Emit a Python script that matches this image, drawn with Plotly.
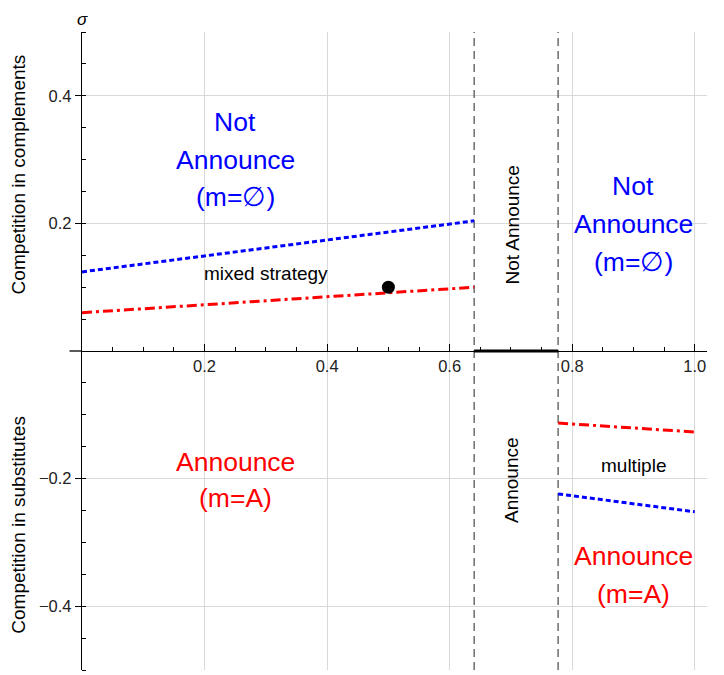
import plotly.graph_objects as go

# ---- data ----
x_top = [0.0, 0.64]
blue_top = [0.124, 0.204]
red_top = [0.060, 0.100]
x_bot = [0.777, 1.0]
red_bot = [-0.113, -0.127]
blue_bot = [-0.224, -0.252]
boundaries = [0.64, 0.777]
mixed_x = [0.5]
mixed_y = [0.1]
x_ticks = [0.2, 0.4, 0.6, 0.8, 1.0]
y_ticks = [-0.4, -0.2, 0.2, 0.4]
x_range = [0, 1.02]
y_range = [-0.5, 0.5]

BLUE = "#0000FF"
RED = "#FF0000"
FONT = "Liberation Sans, Arial, sans-serif"

fig = go.Figure()

# vertical dashed boundaries
for b in boundaries:
    fig.add_trace(go.Scatter(x=[b, b], y=y_range, mode="lines",
                             line=dict(color="#555555", width=1.3, dash="8px,5px"),
                             hoverinfo="skip"))

# thick segment on the axis between boundaries
fig.add_trace(go.Scatter(x=boundaries, y=[0, 0], mode="lines",
                         line=dict(color="black", width=3), hoverinfo="skip"))

fig.add_trace(go.Scatter(x=x_top, y=blue_top, mode="lines",
                         line=dict(color=BLUE, width=3, dash="5px,3px")))
fig.add_trace(go.Scatter(x=x_top, y=red_top, mode="lines",
                         line=dict(color=RED, width=3, dash="10px,4px,3px,4px")))
fig.add_trace(go.Scatter(x=x_bot, y=red_bot, mode="lines",
                         line=dict(color=RED, width=3, dash="10px,4px,3px,4px")))
fig.add_trace(go.Scatter(x=x_bot, y=blue_bot, mode="lines",
                         line=dict(color=BLUE, width=3, dash="5px,3px")))
fig.add_trace(go.Scatter(x=mixed_x, y=mixed_y, mode="markers",
                         marker=dict(color="black", size=13)))

ann = []

def big(text, x, y, color):
    ann.append(dict(x=x, y=y, xref="x", yref="y", text=text, showarrow=False,
                    font=dict(family=FONT, size=26.5, color=color)))

for t, y in zip(["Not", "Announce", "(m=∅)"], [0.359, 0.299, 0.241]):
    big(t, 0.25, y, BLUE)
for t, y in zip(["Not", "Announce", "(m=∅)"], [0.259, 0.199, 0.139]):
    big(t, 0.90, y, BLUE)
for t, y in zip(["Announce", "(m=A)"], [-0.174, -0.230]):
    big(t, 0.25, y, RED)
for t, y in zip(["Announce", "(m=A)"], [-0.321, -0.381]):
    big(t, 0.90, y, RED)

small = dict(family=FONT, size=19, color="black")
ann.append(dict(x=0.30, y=0.122, text="mixed strategy", showarrow=False, font=small))
ann.append(dict(x=0.90, y=-0.179, text="multiple", showarrow=False, font=small))
ann.append(dict(x=0.702, y=0.197, text="Not Announce", textangle=-90, showarrow=False, font=small))
ann.append(dict(x=0.702, y=-0.202, text="Announce", textangle=-90, showarrow=False, font=small))

# axis labels
ann.append(dict(xref="paper", yref="paper", x=-0.1016, y=0.776, xanchor="center", yanchor="middle",
                text="Competition in complements", textangle=-90, showarrow=False, font=small))
ann.append(dict(xref="paper", yref="paper", x=-0.1016, y=0.227, xanchor="center", yanchor="middle",
                text="Competition in substitutes", textangle=-90, showarrow=False, font=small))
ann.append(dict(xref="paper", yref="paper", x=0, y=1, xanchor="center", yanchor="top", yshift=23,
                borderpad=0, text="<i>σ</i>", showarrow=False,
                font=dict(family=FONT, size=17, color="black")))

fig.update_layout(
    width=724, height=675,
    margin=dict(l=74, r=25, t=24, b=13),
    plot_bgcolor="white", paper_bgcolor="white",
    showlegend=False,
    annotations=ann,
    shapes=[dict(type="line", xref="paper", yref="y", x0=-0.02, x1=0, y0=0, y1=0,
                 line=dict(color="black", width=1.3))],
    xaxis=dict(range=x_range, anchor="free", position=0.5,
               showline=True, linecolor="black", linewidth=1.3,
               ticks="inside", ticklen=7, tickcolor="black", tickwidth=1,
               tickvals=x_ticks, tickformat=".1f",
               tickfont=dict(family=FONT, size=16.5, color="#222"),
               showgrid=True, gridcolor="#d9d9d9", gridwidth=1, zeroline=False,
               minor=dict(ticks="inside", ticklen=4, tick0=0, dtick=0.05,
                          tickcolor="black", showgrid=False)),
    yaxis=dict(range=y_range, showline=True, linecolor="black", linewidth=1.3,
               ticks="outside", ticklen=6, tickcolor="black", tickwidth=1,
               tickvals=y_ticks, tickformat=".1f",
               tickfont=dict(family=FONT, size=16.5, color="#222"),
               showgrid=True, gridcolor="#d9d9d9", gridwidth=1, zeroline=False,
               minor=dict(ticks="inside", ticklen=4, tick0=0, dtick=0.05,
                          tickcolor="black", showgrid=False)),
)

fig.write_html("out.html")
